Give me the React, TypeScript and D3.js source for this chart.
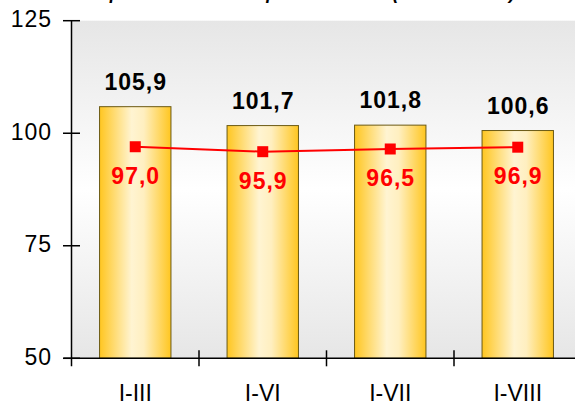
import React from "react";
import * as d3 from "d3";

const categories = ["I-III", "I-VI", "I-VII", "I-VIII"];
const barValues = [105.9, 101.7, 101.8, 100.6];
const lineValues = [97.0, 95.9, 96.5, 96.9];
const yTicks = [50, 75, 100, 125];
const titleText = "Индексы промышленного производства (в % к 2007 г.)";

const W = 575;
const H = 404;
const left = 71.5;
const top = 20.7;
const bottom = 358.3;
const step = 127.5;

const fmt = (v: number) => v.toFixed(1).replace(".", ",");

export default function App() {
  const x = d3
    .scaleBand<string>()
    .domain(categories)
    .range([left, left + step * categories.length])
    .paddingInner(0.44)
    .paddingOuter(0.22);
  const y = d3.scaleLinear().domain([50, 125]).range([bottom, top]);
  const cx = (c: string) => (x(c) as number) + x.bandwidth() / 2;

  const line = d3
    .line<number>()
    .x((_, i) => cx(categories[i]))
    .y((d) => y(d));

  const font = "Arial, 'Liberation Sans', sans-serif";
  const boundaries = categories.map((_, i) => left + step * (i + 1));

  return (
    <svg
      width={W}
      height={H}
      style={{ position: "absolute", left: 0, top: 0, background: "#fff" }}
      fontFamily={font}
    >
      <defs>
        <linearGradient id="bg" x1="0" y1="0" x2="0" y2="1">
          <stop offset="0%" stopColor="#e6e6e6" />
          <stop offset="50%" stopColor="#ffffff" />
          <stop offset="100%" stopColor="#e6e6e6" />
        </linearGradient>
        <linearGradient id="bar" x1="0" y1="0" x2="1" y2="0">
          <stop offset="0%" stopColor="#ffc620" />
          <stop offset="45%" stopColor="#fff4d2" />
          <stop offset="62%" stopColor="#ffefc0" />
          <stop offset="100%" stopColor="#ffc620" />
        </linearGradient>
      </defs>

      <text
        x={515}
        y={-1}
        textAnchor="end"
        fontSize={18}
        fontWeight="bold"
        fontStyle="italic"
        fill="#000"
      >
        {titleText}
      </text>

      <rect x={left} y={top} width={W - left} height={bottom - top} fill="url(#bg)" />

      {categories.map((c, i) => (
        <rect
          key={c}
          x={x(c)}
          y={y(barValues[i])}
          width={x.bandwidth()}
          height={bottom - y(barValues[i])}
          fill="url(#bar)"
          stroke="#6b5a14"
          strokeWidth={1}
        />
      ))}

      {categories.map((c, i) => (
        <text
          key={"bl" + c}
          x={cx(c) + 0.5}
          y={y(barValues[i]) - 17}
          textAnchor="middle"
          fontSize={23}
          fontWeight="bold"
          letterSpacing={1}
          fill="#000"
        >
          {fmt(barValues[i])}
        </text>
      ))}

      <path d={line(lineValues) || ""} fill="none" stroke="#ff0000" strokeWidth={2} />
      {categories.map((c, i) => (
        <rect
          key={"m" + c}
          x={cx(c) - 5.5}
          y={y(lineValues[i]) - 5.5}
          width={11}
          height={11}
          fill="#ff0000"
        />
      ))}
      {categories.map((c, i) => (
        <text
          key={"ll" + c}
          x={cx(c) + 0.5}
          y={y(lineValues[i]) + 37}
          textAnchor="middle"
          fontSize={23}
          fontWeight="bold"
          letterSpacing={1}
          fill="#ff0000"
        >
          {fmt(lineValues[i])}
        </text>
      ))}

      <line x1={left} x2={left} y1={top} y2={bottom + 8} stroke="#000" strokeWidth={1.5} />
      <line x1={left - 8} x2={W} y1={bottom} y2={bottom} stroke="#000" strokeWidth={1.5} />
      {yTicks.map((t) => (
        <g key={"yt" + t}>
          <line x1={left - 8.5} x2={left + 8.5} y1={y(t)} y2={y(t)} stroke="#000" strokeWidth={1.5} />
          <text x={52} y={y(t) + 6.5} textAnchor="end" fontSize={23} letterSpacing={1} fill="#000">
            {t}
          </text>
        </g>
      ))}
      {boundaries.map((b, i) => (
        <line key={"xt" + i} x1={b} x2={b} y1={bottom - 8} y2={bottom + 8} stroke="#000" strokeWidth={1.5} />
      ))}
      {categories.map((c) => (
        <text key={"xl" + c} x={cx(c)} y={401} textAnchor="middle" fontSize={23} fill="#000">
          {c}
        </text>
      ))}
    </svg>
  );
}
